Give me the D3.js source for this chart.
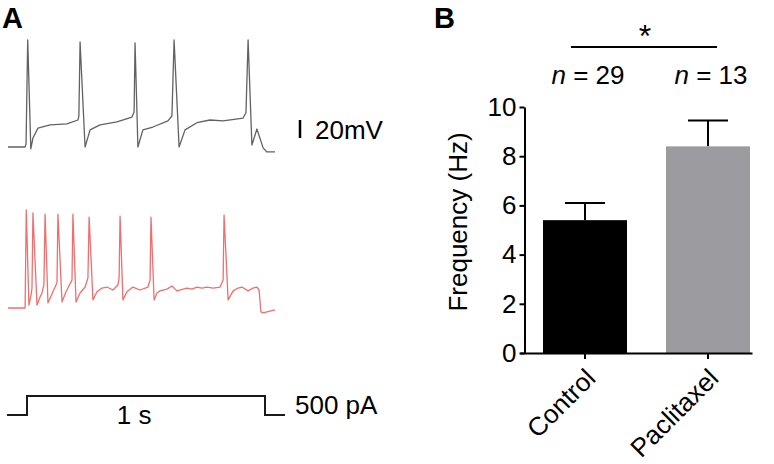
<!DOCTYPE html>
<html>
<head>
<meta charset="utf-8">
<script src="https://cdn.jsdelivr.net/npm/d3@7"></script>
<style>
  body { margin: 0; background: #fff; }
  svg { display: block; font-family: 'Liberation Sans', Arial, sans-serif; }
  .panel { font-weight: bold; font-size: 29px; }
  .lbl { font-size: 26px; }
  .axis text { font-size: 26px; font-family: 'Liberation Sans', Arial, sans-serif; fill: #000; }
  .axis path, .axis line { stroke: #000; stroke-width: 2; }
</style>
</head>
<body>
<div id="chart"></div>
<script>
// panel A traces: time (ms from step onset), membrane potential (mV)
var controlT = [-80, -8, -4, 3, 16, 25, 46, 97, 168, 214, 218, 223, 244, 265, 307, 378, 441, 450, 454, 466, 487, 529, 592, 609, 618, 639, 664, 714, 769, 824, 908, 920, 929, 945, 966, 992, 1008, 1042];
var controlV = [-65, -65, -61.7, 54, -67, -55, -44, -40.5, -39.4, -35, -30.6, 51.7, -65, -46, -40.5, -37, -31.7, -26, 50.6, -65, -46, -42.8, -36, -30.6, 54, -65, -46, -38, -35, -36, -32.8, -27, 54, -62.8, -45, -66, -70.5, -70.5];

var paclitaxelT = [-80, -8, -3, 8, 17, 21, 25, 42, 55, 63, 71, 76, 88, 101, 109, 126, 130, 147, 164, 172, 189, 193, 206, 223, 244, 256, 261, 277, 294, 315, 336, 361, 382, 387, 391, 403, 420, 445, 475, 508, 517, 521, 534, 546, 559, 588, 609, 630, 672, 693, 714, 735, 756, 782, 811, 824, 828, 845, 866, 887, 903, 929, 950, 966, 975, 983, 992, 1042];
var paclitaxelV = [-65, -65, 44, -61.7, -50.6, -42.8, 40.6, -61.7, -52.8, -48.3, -39.4, 39.4, -59.4, -51.7, -47, -37, 39.4, -58.3, -47, -42.8, -34, 39.4, -58.3, -48.3, -41.7, -31.7, 36, -56, -47, -42.8, -41.7, -45, -39.4, -31.7, 37, -56, -47, -41.7, -45, -41.7, -34, 36, -56, -48.3, -46, -44, -40.6, -46, -42.8, -44, -41.7, -42.8, -41.7, -42.8, -41.7, -34, 38.3, -56, -46, -42.8, -41.7, -46, -42.8, -41.7, -45, -69.4, -70.5, -67];

// current step protocol
var stepT = [-84, 0, 0, 1000, 1000, 1084];
var stepI = [0, 0, 500, 500, 0, 0];
var scaleBarMv = 20;

// panel B
var groups = ['Control', 'Paclitaxel'];
var freqMean = [5.4, 8.4];
var freqSem = [0.7, 1.05];
var groupN = [29, 13];
var freqTicks = [0, 2, 4, 6, 8, 10];

var width = 774;
var height = 464;

var svg = d3.select('#chart').append('svg')
  .attr('width', width)
  .attr('height', height);

// ---------- A ----------
svg.append('text').attr('class', 'panel').attr('x', 2).attr('y', 28).text('A');

var tScale = d3.scaleLinear().domain([0, 1000]).range([27, 265]);
var vControl = d3.scaleLinear().domain([-65, 55]).range([147, 39]);
var vPacli = d3.scaleLinear().domain([-65, 55]).range([308, 200]);
var iScale = d3.scaleLinear().domain([0, 500]).range([415, 396]);

var controlLine = d3.line()
  .x(function(d) { return tScale(d[0]); })
  .y(function(d) { return vControl(d[1]); });

var pacliLine = d3.line()
  .x(function(d) { return tScale(d[0]); })
  .y(function(d) { return vPacli(d[1]); });

var stepLine = d3.line()
  .x(function(d) { return tScale(d[0]); })
  .y(function(d) { return iScale(d[1]); });

svg.append('path')
  .datum(d3.zip(controlT, controlV))
  .attr('d', controlLine)
  .attr('fill', 'none')
  .attr('stroke', '#626262')
  .attr('stroke-width', 1.3)
  .attr('stroke-linejoin', 'round');

svg.append('path')
  .datum(d3.zip(paclitaxelT, paclitaxelV))
  .attr('d', pacliLine)
  .attr('fill', 'none')
  .attr('stroke', '#ee6f6f')
  .attr('stroke-width', 1.3)
  .attr('stroke-linejoin', 'round');

svg.append('path')
  .datum(d3.zip(stepT, stepI))
  .attr('d', stepLine)
  .attr('fill', 'none')
  .attr('stroke', '#1a1a1a')
  .attr('stroke-width', 2);

// 20 mV scale bar
var barBottom = 138;
svg.append('line')
  .attr('x1', 300).attr('x2', 300)
  .attr('y1', barBottom)
  .attr('y2', barBottom - (vControl(-65) - vControl(-65 + scaleBarMv)))
  .attr('stroke', '#000')
  .attr('stroke-width', 2.5);

svg.append('text').attr('class', 'lbl').attr('x', 315).attr('y', 139).text('20mV');
svg.append('text').attr('class', 'lbl').attr('x', 295).attr('y', 414).text('500 pA');
svg.append('text').attr('class', 'lbl').attr('text-anchor', 'middle')
  .attr('x', tScale(450)).attr('y', 424).text('1 s');

// ---------- B ----------
svg.append('text').attr('class', 'panel').attr('x', 434).attr('y', 28).text('B');

var xScale = d3.scaleBand()
  .domain(groups)
  .range([520, 752])
  .paddingInner(0.317)
  .paddingOuter(0.1016)
  .align(0.92);

var yScale = d3.scaleLinear()
  .domain([0, 10])
  .range([353, 107]);

var yAxis = d3.axisLeft(yScale)
  .tickValues(freqTicks)
  .tickSize(5)
  .tickSizeOuter(0)
  .tickPadding(3);

svg.append('g')
  .attr('class', 'axis')
  .attr('transform', 'translate(524.5,0)')
  .call(yAxis);

var xAxis = d3.axisBottom(xScale)
  .tickSize(6)
  .tickSizeOuter(0)
  .tickFormat('');

var xg = svg.append('g')
  .attr('class', 'axis')
  .attr('transform', 'translate(0,' + yScale(0) + ')')
  .call(xAxis);

var bars = svg.selectAll('.bar')
  .data(groups)
  .enter()
  .append('g')
  .attr('class', 'bar');

// error bars first so the bar hides the lower half
bars.append('line')
  .attr('x1', function(d) { return xScale(d) + xScale.bandwidth() / 2; })
  .attr('x2', function(d) { return xScale(d) + xScale.bandwidth() / 2; })
  .attr('y1', function(d, i) { return yScale(freqMean[i]); })
  .attr('y2', function(d, i) { return yScale(freqMean[i] + freqSem[i]); })
  .attr('stroke', '#000')
  .attr('stroke-width', 2);

bars.append('line')
  .attr('x1', function(d) { return xScale(d) + xScale.bandwidth() / 2 - 20; })
  .attr('x2', function(d) { return xScale(d) + xScale.bandwidth() / 2 + 20; })
  .attr('y1', function(d, i) { return yScale(freqMean[i] + freqSem[i]); })
  .attr('y2', function(d, i) { return yScale(freqMean[i] + freqSem[i]); })
  .attr('stroke', '#000')
  .attr('stroke-width', 2);

bars.append('rect')
  .attr('x', function(d) { return xScale(d); })
  .attr('y', function(d, i) { return yScale(freqMean[i]); })
  .attr('width', xScale.bandwidth())
  .attr('height', function(d, i) { return yScale(0) - yScale(freqMean[i]); })
  .attr('fill', function(d, i) { return i === 0 ? '#000' : '#9c9ca0'; });

// redraw axis on top of bars
svg.node().appendChild(xg.node());

// rotated category labels
svg.selectAll('.cat')
  .data(groups)
  .enter()
  .append('text')
  .attr('class', 'lbl')
  .attr('text-anchor', 'end')
  .attr('transform', function(d) {
    return 'translate(' + (xScale(d) + xScale.bandwidth() / 2 + 12) + ',' + 380 + ') rotate(-45)';
  })
  .text(function(d) { return d; });

// y label
svg.append('text')
  .attr('class', 'lbl')
  .attr('text-anchor', 'middle')
  .attr('transform', 'translate(467,222) rotate(-90)')
  .text('Frequency (Hz)');

// n labels
var nText = svg.selectAll('.nlab')
  .data(groups)
  .enter()
  .append('text')
  .attr('class', 'lbl')
  .attr('text-anchor', 'middle')
  .attr('x', function(d) { return xScale(d) + xScale.bandwidth() / 2 + 3; })
  .attr('y', 84);
nText.append('tspan').style('font-style', 'italic').text('n');
nText.append('tspan').text(function(d, i) { return ' = ' + groupN[i]; });

// significance
svg.append('line')
  .attr('x1', 571).attr('x2', 717)
  .attr('y1', 47).attr('y2', 47)
  .attr('stroke', '#000')
  .attr('stroke-width', 2);

svg.append('text')
  .attr('text-anchor', 'middle')
  .style('font-size', '32px')
  .attr('x', 645).attr('y', 47)
  .text('*');
</script>
</body>
</html>
